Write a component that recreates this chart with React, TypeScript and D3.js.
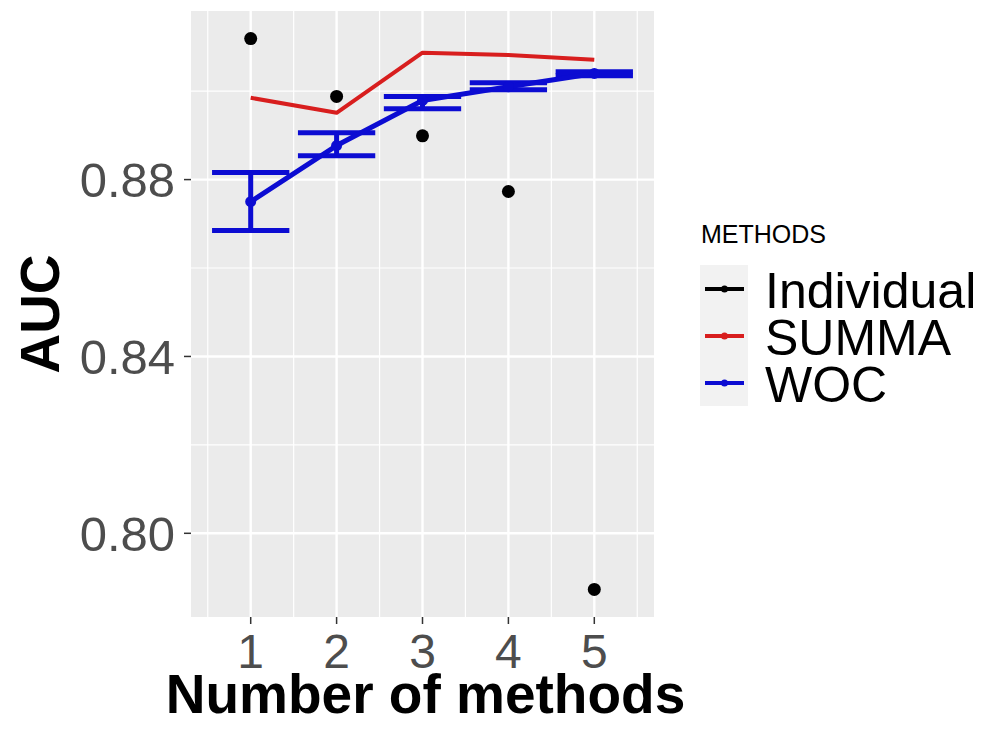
import { scaleLinear, line, extent } from "d3";

// chart data
const methodCounts = [1, 2, 3, 4, 5];
const individualAUC = [0.9119, 0.8988, 0.8899, 0.8773, 0.7873];
const summaAUC = [0.8985, 0.8951, 0.9087, 0.9082, 0.9071];
const wocAUC = [0.875, 0.8877, 0.8979, 0.901, 0.904];
const wocLower = [0.8685, 0.8854, 0.896, 0.9003, 0.9035];
const wocUpper = [0.8816, 0.8906, 0.8988, 0.9019, 0.9044];

const yTicks = [0.8, 0.84, 0.88];
const yMinorTicks = [0.82, 0.86, 0.9];
const xTicks = [1, 2, 3, 4, 5];
const xMinorTicks = [0.5, 1.5, 2.5, 3.5, 4.5, 5.5];

const legendNames = ["Individual", "SUMMA", "WOC"];
const legendColors = ["#000000", "#d81e1e", "#0c0cd2"];

const W = 988;
const H = 735;
const panel = { left: 191, right: 654, top: 11, bottom: 617 };
const errHalf = 0.45; // errorbar half width, in x units
const FONT = "'Liberation Sans', Arial, Helvetica, sans-serif";

// ggplot-like 5% expansion of the data range
const expand = ([a, b]: [number, number]) => {
  const d = (b - a) * 0.05;
  return [a - d, b + d];
};

export default function App() {
  const xExt = [Math.min(...methodCounts) - errHalf, Math.max(...methodCounts) + errHalf] as [number, number];
  const yExt = extent([...individualAUC, ...summaAUC, ...wocLower, ...wocUpper, ...wocAUC]) as [number, number];

  const x = scaleLinear().domain(expand(xExt)).range([panel.left, panel.right]);
  const y = scaleLinear().domain(expand(yExt)).range([panel.bottom, panel.top]);

  const path = line<number>()
    .x((_, i) => x(methodCounts[i]))
    .y((d) => y(d));

  const red = legendColors[1];
  const blue = legendColors[2];

  return (
    <svg
      width={W}
      height={H}
      style={{ position: "absolute", left: 0, top: 0, background: "#fff" }}
      fontFamily={FONT}
    >
      {/* panel */}
      <rect
        x={panel.left}
        y={panel.top}
        width={panel.right - panel.left}
        height={panel.bottom - panel.top}
        fill="#ebebeb"
      />
      {yMinorTicks.map((t) => (
        <line key={"ym" + t} x1={panel.left} x2={panel.right} y1={y(t)} y2={y(t)} stroke="#fff" strokeWidth={1.2} />
      ))}
      {xMinorTicks.map((t) => (
        <line key={"xm" + t} x1={x(t)} x2={x(t)} y1={panel.top} y2={panel.bottom} stroke="#fff" strokeWidth={1.2} />
      ))}
      {yTicks.map((t) => (
        <line key={"y" + t} x1={panel.left} x2={panel.right} y1={y(t)} y2={y(t)} stroke="#fff" strokeWidth={2.4} />
      ))}
      {xTicks.map((t) => (
        <line key={"x" + t} x1={x(t)} x2={x(t)} y1={panel.top} y2={panel.bottom} stroke="#fff" strokeWidth={2.4} />
      ))}

      {/* WOC error bars */}
      {methodCounts.map((m, i) => (
        <g key={"eb" + m} stroke={blue} strokeWidth={5}>
          <line x1={x(m - errHalf)} x2={x(m + errHalf)} y1={y(wocUpper[i])} y2={y(wocUpper[i])} />
          <line x1={x(m - errHalf)} x2={x(m + errHalf)} y1={y(wocLower[i])} y2={y(wocLower[i])} />
          <line x1={x(m)} x2={x(m)} y1={y(wocUpper[i])} y2={y(wocLower[i])} />
        </g>
      ))}

      {/* lines */}
      <path d={path(summaAUC) ?? ""} fill="none" stroke={red} strokeWidth={4} strokeLinejoin="round" />
      <path d={path(wocAUC) ?? ""} fill="none" stroke={blue} strokeWidth={5} strokeLinejoin="round" />

      {/* points */}
      {methodCounts.map((m, i) => (
        <circle key={"w" + m} cx={x(m)} cy={y(wocAUC[i])} r={5.5} fill={blue} />
      ))}
      {methodCounts.map((m, i) => (
        <circle key={"p" + m} cx={x(m)} cy={y(individualAUC[i])} r={6.5} fill="#000" />
      ))}

      {/* y axis */}
      {yTicks.map((t) => (
        <g key={"yl" + t}>
          <line x1={panel.left - 7} x2={panel.left} y1={y(t)} y2={y(t)} stroke="#333" strokeWidth={1.5} />
          <text x={panel.left - 16} y={y(t)} dy="0.36em" textAnchor="end" fontSize={49} fill="#4d4d4d">
            {t.toFixed(2)}
          </text>
        </g>
      ))}
      <text
        transform={`translate(59, ${(panel.top + panel.bottom) / 2}) rotate(-90)`}
        textAnchor="middle"
        fontSize={55}
        fontWeight="bold"
        fill="#000"
      >
        AUC
      </text>

      {/* x axis */}
      {xTicks.map((t) => (
        <g key={"xl" + t}>
          <line x1={x(t)} x2={x(t)} y1={panel.bottom} y2={panel.bottom + 7} stroke="#333" strokeWidth={1.5} />
          <text x={x(t)} y={668} textAnchor="middle" fontSize={48} fill="#4d4d4d">
            {t}
          </text>
        </g>
      ))}
      <text x={(panel.left + panel.right) / 2 + 3} y={713} textAnchor="middle" fontSize={55} fontWeight="bold" fill="#000">
        Number of methods
      </text>

      {/* legend */}
      <text x={701} y={243} fontSize={25} fill="#000">
        METHODS
      </text>
      {legendNames.map((name, i) => {
        const cy = 289 + i * 47;
        return (
          <g key={name}>
            <rect x={700} y={cy - 24} width={48} height={47} fill="#f2f2f2" />
            <line x1={705} x2={744} y1={cy} y2={cy} stroke={legendColors[i]} strokeWidth={4} />
            <circle cx={724.5} cy={cy} r={3.5} fill={legendColors[i]} />
            <text x={765} y={cy + 19} fontSize={50} fill="#000">
              {name}
            </text>
          </g>
        );
      })}
    </svg>
  );
}
